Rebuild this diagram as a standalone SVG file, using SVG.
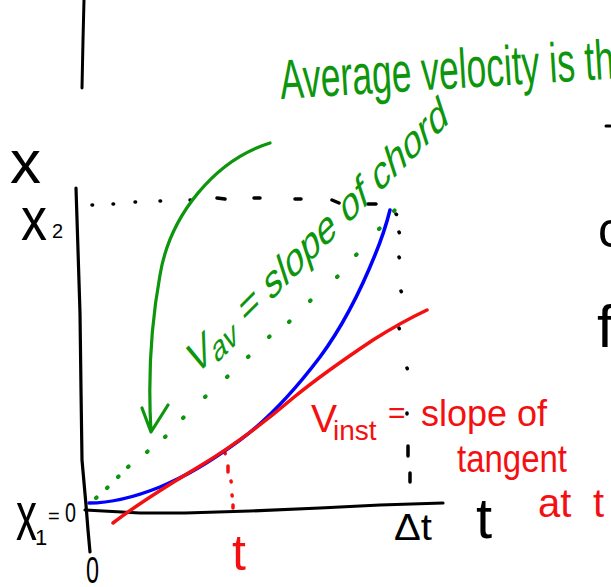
<svg xmlns="http://www.w3.org/2000/svg" width="611" height="587" viewBox="0 0 611 587">
<style>
  .ink{fill:none;stroke-linecap:round;stroke-linejoin:round}
  .k{stroke:#000}
  .g{stroke:#0d960d}
  .r{stroke:#f41010}
  .b{stroke:#0000ff}
  .t{font-family:"Liberation Sans",Arial,sans-serif}
  .tk{fill:#000}
  .tg{fill:#0d960d}
  .tr{fill:#f41010}
</style>
<rect width="611" height="587" fill="#fff"/>

<g id="top-mark">
  <path class="ink k" stroke-width="3" d="M84,0 L83,40 L82,88"/>
  <path class="ink k" stroke-width="3" d="M606,126 L610,126"/>
</g>

<g id="axes">
  <path class="ink k" stroke-width="3.2" d="M76,188 L78,250 L80,313 L81,390 L82,460 L86,505 L88,530 L90,552"/>
  <path class="ink k" stroke-width="3.2" d="M85,510 L140,513 L185,513 L250,511 L320,508 L380,505 L443,503"/>
</g>

<g id="guides">
  <path class="ink k" stroke-width="3.5" d="M92,205 l0.6,0 M113,204 l0.6,0 M135,202 l0.6,0 M160,201 l0.6,0 M190,200 l0.6,0 M217,198 L225,199 M254,198 L260,198 M295,199 L301,199 M332,200 L339,203 M368,204 L376,204"/>
  <path class="ink k" stroke-width="3.5" d="M396,214 l0.5,0.5 M399,232 l0.3,0.6 M399,257 l0.3,0.6 M401,291 l0.3,0.6 M399,328 l0.3,0.6 M407,368 l0.3,0.6 M407,413 l0,1 M408,446 L408,456 M410,473 L410,482"/>
  <path class="ink r" stroke-width="3.5" d="M225,453 l0.3,0.6 M228,466 L228,472 M231,481 l0.2,1 M232,495 l0.2,1 M233,505 l0,3"/>
</g>

<g id="connectors">
  <path id="chord" class="ink g" stroke-width="4" d="M96,498 l0.6,-0.6 M107,488 l0.6,-0.6 M118,477 l0.6,-0.6 M128,467 l0.6,-0.6 M147,452 l0.6,-0.6 M165,437 l0.6,-0.6 M183,418 l0.6,-0.6 M205,397 l0.6,-0.6 M227,377 l0.6,-0.6 M248,357 l0.6,-0.6 M269,337 l0.6,-0.6 M289,322 l0.6,-0.6 M310,301 l0.6,-0.6 M337,277 l0.6,-0.6 M356,255 l0.6,-0.6 M379,229 l0.6,-0.6 M394,211 l0.6,-0.6"/>
  <path id="curve" class="ink b" stroke-width="3.5" d="M89,503 C110,503 135,497 160,487 C185,477 210,462 240,440 C270,418 295,390 320,357 C340,330 360,292 375,255 C382,238 387,222 390,210"/>
  <path id="tangent" class="ink r" stroke-width="3.5" d="M113,523 C135,506 165,487 200,466 C230,448 265,422 293,398 C315,380 340,362 373,340 C392,328 410,318 427,310"/>
  <path id="arrow" class="ink g" stroke-width="3.2" d="M270,143 C215,160 170,215 160,275 C150,330 148,380 151,432 M142,408 L151,432 L168,405"/>
</g>

<g id="labels-black" class="t tk">
  <text x="10" y="183" font-size="62">x</text>
  <text x="21" y="240" font-size="62" textLength="26" lengthAdjust="spacingAndGlyphs">x</text>
  <text x="52" y="238" font-size="20">2</text>
  <text x="16" y="540" font-size="70" textLength="21" lengthAdjust="spacingAndGlyphs">x</text>
  <text x="35" y="545" font-size="22">1</text>
  <text x="48" y="523" font-size="20">=</text>
  <text x="65" y="522" font-size="27" textLength="11" lengthAdjust="spacingAndGlyphs">0</text>
  <text x="86" y="583" font-size="37" textLength="13" lengthAdjust="spacingAndGlyphs">0</text>
  <text x="394" y="540" font-size="36" textLength="38" lengthAdjust="spacingAndGlyphs">Δt</text>
  <text x="476" y="538" font-size="58">t</text>
  <text x="598" y="247" font-size="50">c</text>
  <text x="597" y="347" font-size="60">f</text>
</g>

<g id="label-average" class="t tg">
  <text x="281" y="99" font-size="56" textLength="335" lengthAdjust="spacingAndGlyphs" transform="rotate(-3.5 281 99)">Average velocity is th</text>
</g>

<g id="label-vav" class="t tg">
  <text transform="translate(195,377) rotate(-45) skewX(-27)" font-size="39" textLength="360" lengthAdjust="spacingAndGlyphs">V<tspan font-size="30" dy="6">av</tspan><tspan dy="-6"> = slope of chord</tspan></text>
</g>

<g id="label-vinst" class="t tr">
  <text y="432" font-size="39"><tspan x="311">V</tspan><tspan x="333" y="440" font-size="28">inst</tspan><tspan x="388" y="423" font-size="30">=</tspan><tspan x="421" y="426" font-size="36">slope of</tspan></text>
  <text x="457" y="472" font-size="38" textLength="110" lengthAdjust="spacingAndGlyphs">tangent</text>
  <text x="538" y="517" font-size="40">at <tspan x="593">t</tspan></text>
</g>

<g id="label-t" class="t tr">
  <text x="232" y="570" font-size="50">t</text>
</g>
</svg>
